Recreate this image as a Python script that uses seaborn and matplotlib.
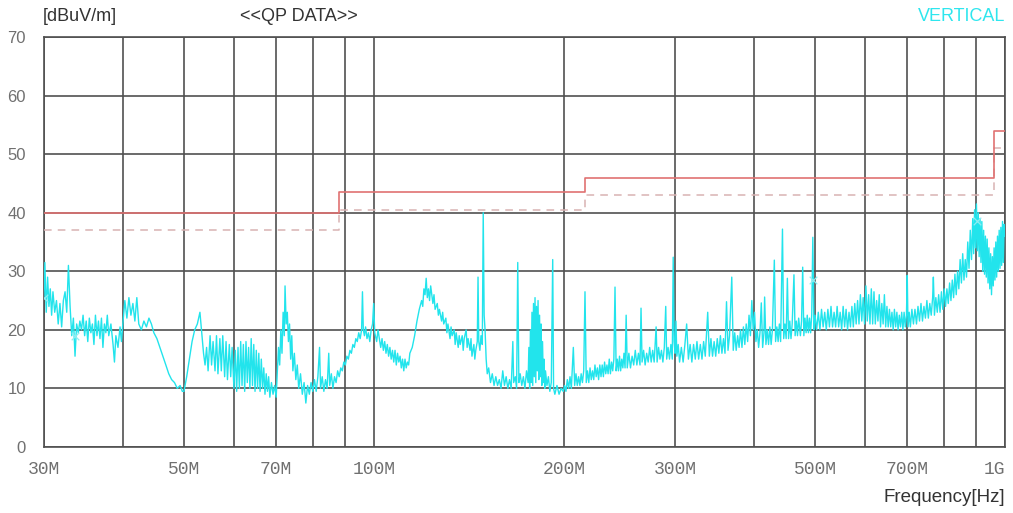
import matplotlib
matplotlib.use("Agg")
import matplotlib.pyplot as plt
import seaborn as sns
import pandas as pd

# ── Data ────────────────────────────────────────────────────
# limit line (solid) and margin line (dashed), frequency in MHz
limit_freq = [30, 88, 216, 960, 1000]
limit_db = [40, 43.5, 46, 54, 54]
margin_db = [37, 40.5, 43, 51, 51]

trace = [
    (30.0, 25.5), (30.1, 31.5), (30.25, 23), (30.4, 29), (30.55, 24), (30.7, 27), (30.85, 22.5),
    (31.0, 26.5), (31.2, 23), (31.4, 25), (31.6, 21), (31.8, 24.5), (32.0, 20.5), (32.2, 25),
    (32.4, 26.5), (32.6, 23), (32.8, 31), (33.0, 24), (33.2, 19), (33.4, 22), (33.6, 15.5),
    (33.8, 21), (34.0, 19.5), (34.2, 21.5), (34.4, 20), (34.6, 22.5), (34.8, 19), (35.0, 21.5),
    (35.2, 18), (35.4, 22), (35.6, 19.5), (35.8, 21), (36.0, 17.5), (36.2, 22.5), (36.4, 19),
    (36.6, 21.5), (36.8, 18.5), (37.0, 22), (37.2, 17), (37.4, 21), (37.6, 19.5), (37.8, 22.5),
    (38.0, 19), (38.3, 21), (38.6, 17.5), (38.8, 14.5), (39.0, 19), (39.3, 17), (39.6, 20.5),
    (39.8, 18),
    (40.0, 21), (40.3, 25), (40.6, 22), (40.9, 25.5), (41.2, 22.5), (41.5, 24.5), (41.8, 21.5),
    (42.1, 25.5), (42.4, 21), (42.8, 20), (43.2, 21.5), (43.6, 20.5), (44.0, 22), (44.4, 21),
    (44.8, 19.5), (45.3, 18.5), (45.8, 17), (46.3, 15.5), (46.8, 14), (47.3, 12.5), (47.8, 11.5),
    (48.3, 11), (48.8, 10), (49.3, 10.5), (49.7, 9.5), (50.0, 9.5),
    (50.5, 12), (51.0, 15), (51.5, 18), (52.0, 20), (52.5, 21), (53.0, 23), (53.4, 19),
    (53.7, 16), (54.0, 14), (54.3, 17), (54.6, 13), (55.0, 19), (55.3, 14), (55.6, 18),
    (56.0, 13), (56.3, 19), (56.6, 12.5), (57.0, 18.5), (57.3, 13), (57.6, 19), (58.0, 12),
    (58.3, 18), (58.6, 11.5), (59.0, 17.5), (59.3, 12), (59.6, 17), (60.0, 10),
    (60.3, 16.5), (60.6, 9.5), (60.9, 17), (61.2, 10), (61.5, 18), (61.8, 10.5), (62.1, 17.5),
    (62.4, 9.5), (62.7, 18), (63.0, 11), (63.3, 17), (63.6, 10), (63.9, 18.5), (64.2, 10.5),
    (64.5, 17.5), (64.8, 9.5), (65.1, 16.5), (65.4, 10), (65.7, 16), (66.0, 9.5), (66.3, 15),
    (66.6, 10), (66.9, 13.5), (67.2, 9), (67.5, 12.5), (67.8, 9.5), (68.1, 12), (68.4, 8.5),
    (68.8, 11), (69.2, 9), (69.6, 10.5), (70.0, 8.5),
    (70.3, 13), (70.6, 17), (70.9, 14), (71.2, 20), (71.5, 16), (71.8, 23), (72.1, 19),
    (72.3, 27.5), (72.6, 21), (72.9, 23), (73.2, 18), (73.5, 21), (73.8, 15), (74.1, 19),
    (74.4, 13), (74.8, 16), (75.2, 11.5), (75.6, 14), (76.0, 10), (76.5, 12.5), (77.0, 9),
    (77.5, 11), (78.0, 7.5), (78.5, 10.5), (79.0, 9), (79.5, 11), (80.0, 9.5),
    (80.5, 11.5), (81.0, 9.5), (81.5, 12), (82.0, 17), (82.3, 10), (82.8, 12), (83.3, 9.5),
    (83.8, 11.5), (84.3, 10), (84.8, 16), (85.1, 10.5), (85.6, 12.5), (86.1, 10), (86.6, 12),
    (87.1, 11), (87.6, 13), (88.1, 12), (88.6, 13.5), (89.1, 13), (89.6, 14.5), (90.1, 14),
    (90.6, 15.5), (91.1, 15), (91.6, 16.5), (92.1, 16), (92.6, 17.5), (93.1, 17), (93.6, 18.5),
    (94.1, 18), (94.6, 19.5), (95.1, 18.5), (95.6, 20), (95.9, 26.5), (96.2, 20), (96.6, 19),
    (97.0, 20.5), (97.5, 18.5), (98.0, 19.5), (98.5, 18), (99.0, 20), (99.5, 21), (99.9, 24.5),
    (100.3, 19.5),
    (101, 18), (101.5, 20), (102, 18.5), (102.5, 17), (103, 18.5), (103.5, 16.5), (104, 18),
    (104.5, 16), (105, 17.5), (105.5, 15.5), (106, 17), (106.5, 15), (107, 16.5), (107.5, 14.5),
    (108, 16.5), (108.5, 14), (109, 16), (109.5, 14.5), (110, 15.5), (110.5, 13.5), (111, 15),
    (111.5, 13), (112, 15), (112.5, 13.5), (113, 14.5), (113.5, 14), (114, 16), (115, 17),
    (116, 19), (117, 21.5), (118, 23.5), (119, 25), (119.5, 24), (120, 27), (120.5, 26),
    (121, 28.8), (121.5, 25.5), (122, 27), (122.5, 25), (123, 27.5), (124, 24.5), (124.5, 26),
    (125, 23.5), (126, 24.5), (126.5, 22.5), (127, 23.5), (128, 21.5), (128.5, 23), (129, 21),
    (130, 22), (130.5, 19.5), (131, 21), (132, 18.5), (132.5, 20.5), (133, 19), (134, 20),
    (134.5, 17.5), (135, 19.5), (136, 17), (136.5, 19), (137, 17.5), (138, 19), (138.5, 16.5),
    (139, 18.5), (140, 20), (140.5, 17), (141, 18.5), (142, 16.5), (142.5, 18.5), (143, 15.5),
    (144, 17.5), (144.5, 15), (145, 16.5), (145.8, 18), (146.2, 29), (146.6, 18), (147.2, 16.5),
    (147.8, 19), (148.5, 17.5), (149.0, 40), (149.5, 22.5), (150.0, 20), (150.6, 15),
    (151.2, 12.5),
    (152, 13.5), (153, 11), (154, 12.5), (155, 10.5), (156, 12), (157, 10.5), (158, 11.5),
    (159, 10), (160, 13), (161, 10.5), (162, 12), (163, 10), (164, 11.5), (165, 10), (166, 18),
    (166.5, 11), (167.5, 12), (168.3, 10), (169, 31.5), (169.7, 11), (170.5, 12.5), (171.5, 10.5),
    (172.5, 12), (173.5, 10), (174.5, 13), (175.5, 11), (176, 17), (176.5, 10), (177, 20),
    (177.5, 11), (178, 23), (178.5, 10.5), (179, 24.5), (179.5, 12), (180, 25.5), (180.5, 11),
    (181, 24), (181.5, 13), (182, 25), (182.5, 11.5), (183, 22.5), (183.5, 12), (184, 21),
    (184.5, 10.5), (185, 18), (185.5, 11), (186, 15), (186.5, 10), (187, 13), (188, 10.5),
    (189, 12), (190, 9.5), (191, 11), (192, 32), (192.6, 10), (193.5, 9), (195, 10.5),
    (196.5, 9), (198, 10), (199.5, 9.5),
    (200.5, 10.5), (201.5, 9.5), (202.5, 11.5), (203.5, 10), (204.5, 12), (205.5, 10), (207, 17),
    (208, 10.5), (209, 12.5), (210, 10.5), (211, 12), (212, 10.5), (213, 12.5), (214, 11),
    (215, 13), (216, 26.5), (217, 11), (218, 13), (219, 11), (220, 13.5), (221, 11.5), (222, 13),
    (223, 11.5), (224, 14), (225, 12), (226, 13.5), (227, 11.5), (228, 14), (229, 12), (230, 14),
    (231, 12), (232, 14.5), (233, 12.5), (234, 14), (235, 12.5), (236, 15), (237, 12.5),
    (238, 14.5), (239, 13), (240, 15), (241, 27.3), (242, 13), (243, 15), (244, 13), (245, 15.5),
    (246, 13), (247, 15), (248, 13.5), (249, 16), (250, 13.5), (251, 22.5), (252, 13.5),
    (253.5, 16), (255, 13.5), (256.5, 15.5), (258, 14), (259.5, 16.5), (261, 14), (262.5, 16),
    (264, 14), (265, 23.7), (266, 14.5), (267.5, 16.5), (269, 14), (270.5, 16), (272, 14.5),
    (273.5, 17), (275, 14.5), (276.5, 16.5), (278, 14.5), (280, 20.5), (281, 14.5), (282.5, 17),
    (284, 15), (285.5, 16.5), (287, 14.5), (288.5, 17), (290, 24), (291, 15), (292.5, 17),
    (294, 15), (295.5, 17.5), (297, 15), (298, 32.4), (299, 18), (300, 16), (301, 21.5),
    (302, 15.5), (303.5, 17.5),
    (305, 14.5), (307, 17), (309, 14.5), (311, 17.5), (313, 21), (315, 15), (317, 17.5),
    (319, 14.5), (321, 17.5), (323, 15), (325, 18), (327, 15), (329, 17.5), (331, 15), (333, 18),
    (335, 15.5), (338, 23), (340, 15.5), (342, 18.5), (344, 15.5), (346, 18), (348, 15.5),
    (350, 18.5), (352, 16), (354, 19), (356, 16), (358, 18.5), (360, 16), (362, 24.8), (364, 16.5),
    (366, 19), (369, 29), (371, 16.5), (373, 19.5), (375, 16.5), (377, 19), (379, 17), (381, 20),
    (383, 17), (385, 20.5), (387, 17.5), (389, 21), (391, 18), (393, 22.5), (395, 19), (397, 25),
    (399, 20), (401, 23), (403, 18), (405, 20), (407, 17), (409, 19.5), (411, 24.6), (413, 17),
    (415, 19.5), (416, 25.6), (418, 17.5), (420, 20), (422, 17.5), (424, 20.5), (426, 17.5),
    (428, 20), (431, 31.9), (433, 18), (435, 20.5), (437, 18), (439, 21), (441, 18), (444, 37.2),
    (446, 18.5), (448, 21), (450, 18.5), (452, 28.8), (454, 18.5), (456, 21.5), (458, 18.5),
    (460, 21), (463, 29.4), (465, 19), (467, 21.5), (469, 19), (471, 22), (474, 19), (476, 21.5),
    (478, 30.7), (480, 19), (482, 22), (484, 19.5), (486, 22.5), (488, 19.5), (490, 22),
    (492, 19.5), (494, 22.5), (496, 35.8), (498, 20), (500, 22.5),
    (503, 20), (506, 23), (509, 20), (512, 23.5), (515, 20.5), (518, 23), (521, 20), (524, 23.5),
    (527, 20.5), (530, 24), (533, 20.5), (536, 23), (539, 20.5), (542, 24), (545, 20.5), (548, 23),
    (551, 20), (554, 24), (557, 20.5), (560, 23.5), (563, 20), (566, 23), (569, 20.5), (572, 24),
    (575, 20.5), (578, 24.5), (581, 21), (584, 25), (587, 21), (590, 26), (593, 21.5), (596, 25.5),
    (599, 21), (602, 27.5), (605, 21.5), (608, 26), (611, 21), (614, 27), (617, 21), (620, 26.5),
    (623, 21), (626, 25), (629, 21.5), (632, 26), (635, 20.5), (638, 24.5), (641, 21), (644, 26),
    (647, 20.5), (650, 24), (653, 20.5), (656, 23.5), (659, 20.5), (662, 23), (665, 20),
    (668, 23.5), (671, 20.5), (674, 23), (677, 20), (680, 22.5), (683, 20.5), (686, 23), (689, 20),
    (692, 23), (695, 20.5), (698, 22.5), (700, 29.3), (702, 20.5), (705, 23),
    (708, 20.5), (712, 23.5), (716, 21), (720, 23.5), (724, 21), (728, 24), (732, 21.5),
    (736, 24.5), (740, 21.5), (744, 24), (748, 22), (752, 25), (756, 22), (760, 24.5), (764, 22.5),
    (768, 25.5), (770, 29), (773, 22.5), (777, 25.5), (781, 23), (785, 26), (789, 23), (793, 26.5),
    (797, 23.5), (801, 27), (805, 24), (809, 27), (813, 24.5), (817, 28), (821, 25), (825, 28.5),
    (829, 25.5), (833, 29.5), (837, 26), (841, 30), (845, 27), (849, 32), (853, 28), (857, 33),
    (861, 28.5), (865, 32), (869, 29), (873, 35), (877, 30.5), (881, 37), (885, 32), (889, 39),
    (892, 33), (895, 40.5), (898, 34), (901, 41.5), (904, 33.5), (907, 40), (910, 32.5),
    (913, 39), (916, 31.5), (919, 38.5), (922, 30), (925, 37), (928, 29.5), (931, 36), (934, 29),
    (937, 35.5), (940, 28), (943, 34), (946, 27), (949, 33), (952, 26), (955, 32.5), (958, 27.5),
    (961, 34), (964, 28.5), (967, 35), (970, 29), (973, 36), (976, 30), (979, 37), (982, 30.5),
    (985, 37.5), (988, 31), (991, 38.5), (994, 31.5), (997, 38), (1000, 36),
]
trace_freq = [t[0] for t in trace]
trace_db = [t[1] for t in trace]

# small "x" markers on the trace
mark_freq = [30.0, 33.6, 496, 902]
mark_db = [25.5, 19, 28.5, 38.5]

grid_freq = [30, 40, 50, 60, 70, 80, 90, 100, 200, 300, 400, 500, 600, 700, 800, 900, 1000]
tick_text = {30: "30M", 50: "50M", 70: "70M", 100: "100M", 200: "200M",
             300: "300M", 500: "500M", 700: "700M", 1000: "1G"}
y_ticks = [0, 10, 20, 30, 40, 50, 60, 70]

# ── Plot ────────────────────────────────────────────────────
sns.set_style("white")
plt.rcParams["font.family"] = ["Liberation Sans", "DejaVu Sans"]

fig = plt.figure(figsize=(10.13, 5.13), dpi=100)
ax = fig.add_axes([0.0434, 0.1287, 0.9487, 0.7992])

df_trace = pd.DataFrame({"freq": trace_freq, "level": trace_db})
df_lim = pd.DataFrame({"freq": limit_freq, "limit": limit_db, "margin": margin_db})

sns.lineplot(data=df_lim, x="freq", y="margin", ax=ax, color="#d9b3b3",
             linewidth=1.1, drawstyle="steps-post",
             linestyle=(0, (5, 4)), zorder=3)
sns.lineplot(data=df_lim, x="freq", y="limit", ax=ax, color="#e07272",
             linewidth=1.2, drawstyle="steps-post", zorder=4)
sns.lineplot(data=df_trace, x="freq", y="level", ax=ax, color="#22e4ec",
             linewidth=1.0, estimator=None, sort=False, zorder=5)
ax.scatter(mark_freq, mark_db, marker="x", s=30, color="#8eeef2", linewidths=0.9, zorder=6)

ax.set_xscale("log")
ax.set_xlim(30, 1000)
ax.set_ylim(0, 70)

ax.set_xticks(grid_freq)
ax.set_xticks([], minor=True)
ax.set_xticklabels([tick_text.get(f, "") for f in grid_freq],
                   fontfamily="Liberation Mono", fontsize=13, color="#707070")
ax.get_xticklabels()[-1].set_horizontalalignment("right")
ax.set_yticks(y_ticks)
ax.set_yticklabels([str(v) for v in y_ticks], fontsize=12, color="#707070")
ax.tick_params(axis="both", length=0)
ax.tick_params(axis="x", pad=10)
ax.tick_params(axis="y", pad=13)

ax.grid(True, which="major", color="#505050", linewidth=1.2)
for s in ax.spines.values():
    s.set_color("#505050")
    s.set_linewidth(1.2)
ax.set_xlabel("")
ax.set_ylabel("")

fig.text(0.0425, 0.967, "[dBuV/m]", fontsize=13, color="#333333", ha="left", va="center")
fig.text(0.237, 0.967, "<<QP DATA>>", fontsize=13, color="#333333", ha="left", va="center")
fig.text(0.992, 0.967, "VERTICAL", fontsize=13, color="#2ee6ee", ha="right", va="center")
fig.text(0.992, 0.031, "Frequency[Hz]", fontsize=13.5, color="#333333", ha="right", va="center")

plt.savefig("out.png", dpi=100, facecolor="white")
plt.close()
